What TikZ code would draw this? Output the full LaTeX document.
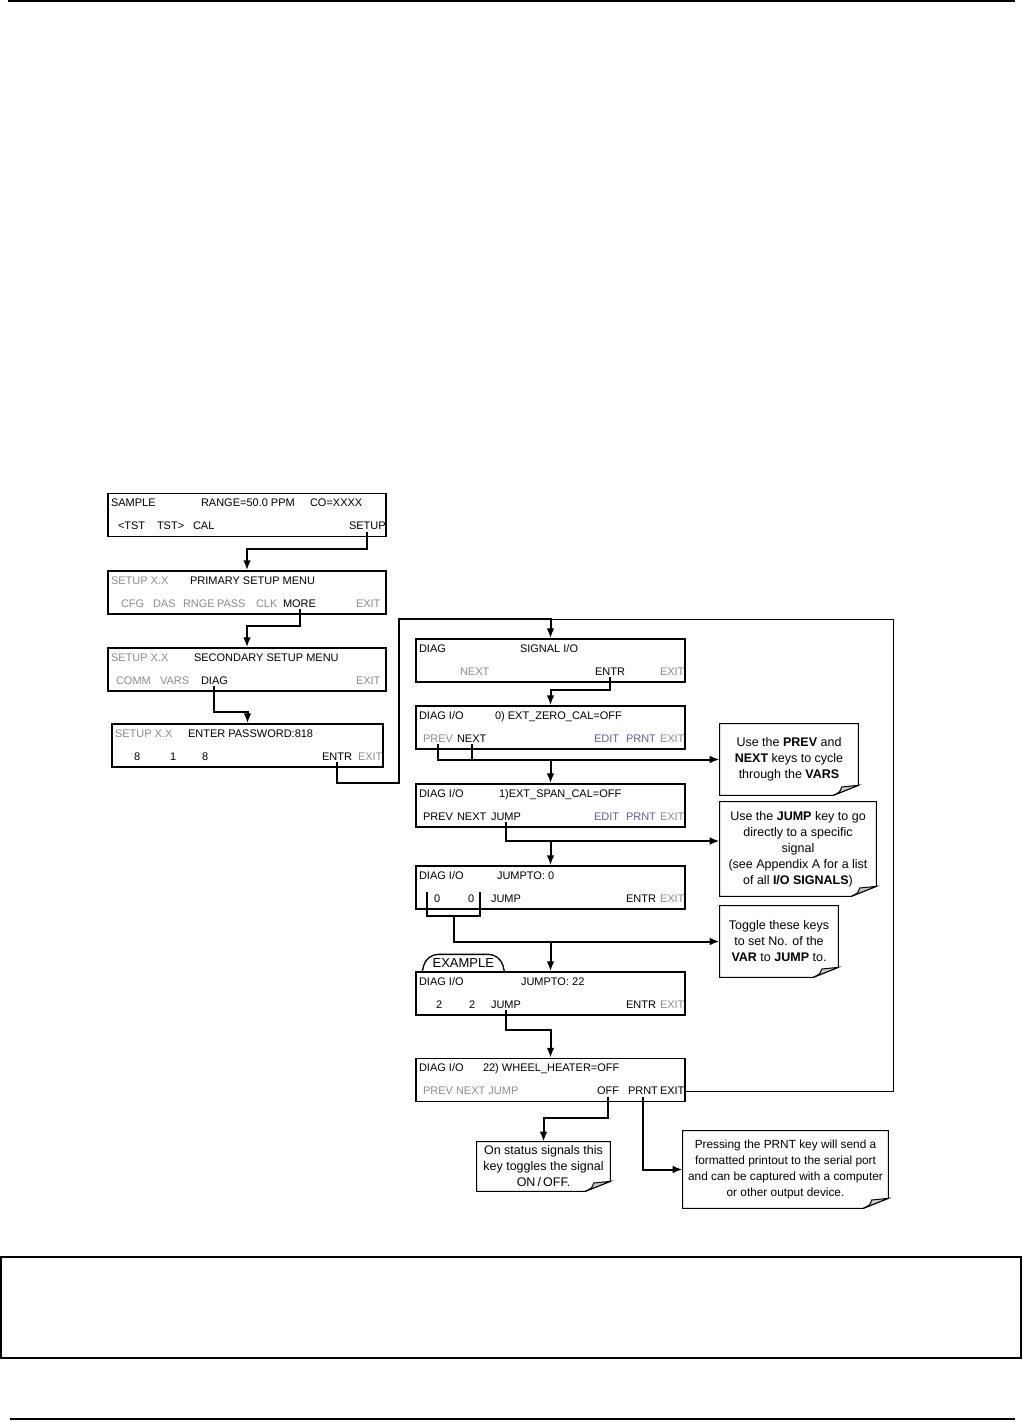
\documentclass[tikz,border=0pt]{standalone}
\usepackage{fontspec}
\setmainfont{Liberation Sans}
\usetikzlibrary{arrows.meta,positioning,calc}

\definecolor{keygray}{HTML}{8C8C8C}
\definecolor{keyblue}{HTML}{5E5EA0}
\definecolor{foldgray}{HTML}{CCCCCC}

% key label inside a display box: [style]{box}{name}{offset}{text}
\newcommand{\kk}[5][key]{\node[#1] (#3) at ([shift={(#4)}]#2.north west) {#5};}

\tikzset{
  menu/.style={draw, line width=0.8pt, minimum width=166.8pt, minimum height=25.8pt, inner sep=0pt},
  rmenu/.style={menu, minimum width=161.4pt},
  key/.style={anchor=base west, inner sep=0.8pt, font=\fontsize{6.6}{8}\selectfont},
  dim/.style={key, text=keygray},
  blu/.style={key, text=keyblue},
  flow/.style={line width=1.2pt},
  loopline/.style={line width=0.6pt},
  note/.style={inner sep=0pt, align=center, font=\fontsize{7.5}{9.6}\selectfont},
}

\begin{document}
\begin{tikzpicture}[x=0.6pt, y=-0.6pt, on grid, >={Latex[length=6pt,width=4.6pt]}]
  \useasboundingbox (0,0) rectangle (1023,1422);

  % page frame
  \draw[line width=0.9pt] (8,1) -- (1015,1);
  \draw[line width=0.8pt] (1,1257) rectangle (1021,1358);
  \draw[line width=0.8pt] (10,1419) -- (1015,1419);

  % left column
  \node[menu] (sample) at (247,515) {};
  \node[menu] (primary) [below=46.5pt of sample] {};
  \node[menu] (secondary) [below=46.2pt of primary] {};
  \node[menu, minimum width=162.6pt] (password) [below=45.6pt of secondary, xshift=0.3pt] {};

  % right column
  \node[rmenu] (signal) at (550.5,660.5) {};
  \node[rmenu] (zero) [below=40.2pt of signal] {};
  \node[rmenu] (span) [below=46.8pt of zero] {};
  \node[rmenu] (jzero) [below=49.2pt of span] {};
  \node[rmenu] (jtwo) [below=63.6pt of jzero] {};
  \node[rmenu] (wheel) [below=51.9pt of jtwo] {};

  \kk{sample}{sampleA}{2,14}{SAMPLE}
  \kk{sample}{rangeA}{92,14}{RANGE=50.0 PPM}
  \kk{sample}{coA}{201,14}{CO=XXXX}
  \kk{sample}{tstL}{9,37}{<TST}
  \kk{sample}{tstR}{48,37}{TST>}
  \kk{sample}{calK}{84,37}{CAL}
  \kk{sample}{setupK}{240,37}{SETUP}

  \kk[dim]{primary}{verA}{2,14}{SETUP X.X}
  \kk{primary}{priT}{81,14}{PRIMARY SETUP MENU}
  \kk[dim]{primary}{cfgK}{12,37}{CFG}
  \kk[dim]{primary}{dasK}{44,37}{DAS}
  \kk[dim]{primary}{rngeK}{74,37}{RNGE}
  \kk[dim]{primary}{passK}{108,37}{PASS}
  \kk[dim]{primary}{clkK}{147,37}{CLK}
  \kk{primary}{moreK}{174,37}{MORE}
  \kk[dim]{primary}{exitA}{247,37}{EXIT}

  \kk[dim]{secondary}{verB}{2,14}{SETUP X.X}
  \kk{secondary}{secT}{85,14}{SECONDARY SETUP MENU}
  \kk[dim]{secondary}{commK}{7,37}{COMM}
  \kk[dim]{secondary}{varsK}{51,37}{VARS}
  \kk{secondary}{diagK}{92,37}{DIAG}
  \kk[dim]{secondary}{exitB}{247,37}{EXIT}

  \kk[dim]{password}{verC}{2,14}{SETUP X.X}
  \kk{password}{pwT}{75,14}{ENTER PASSWORD:818}
  \kk{password}{dA}{21,37}{8}
  \kk{password}{dB}{57,37}{1}
  \kk{password}{dC}{89,37}{8}
  \kk{password}{pwentrK}{209,37}{ENTR}
  \kk[dim]{password}{exitC}{245,37}{EXIT}

  \kk{signal}{diagT}{2,14}{DIAG}
  \kk{signal}{sigT}{103,14}{SIGNAL I/O}
  \kk[dim]{signal}{snextK}{43,37}{NEXT}
  \kk{signal}{sentrK}{178,37}{ENTR}
  \kk[dim]{signal}{exitD}{243,37}{EXIT}

  \kk{zero}{zdiag}{2,14}{DIAG I/O}
  \kk{zero}{zT}{78,14}{0) EXT\_ZERO\_CAL=OFF}
  \kk[dim]{zero}{zprevK}{6,37}{PREV}
  \kk{zero}{znextK}{40,37}{NEXT}
  \kk[blu]{zero}{zeditK}{177,37}{EDIT}
  \kk[blu]{zero}{zprntK}{209,37}{PRNT}
  \kk[dim]{zero}{exitE}{243,37}{EXIT}

  \kk{span}{sdiag}{2,14}{DIAG I/O}
  \kk{span}{sT}{82,14}{1)EXT\_SPAN\_CAL=OFF}
  \kk{span}{sprevK}{6,37}{PREV}
  \kk{span}{snextK2}{40,37}{NEXT}
  \kk{span}{sjumpK}{74,37}{JUMP}
  \kk[blu]{span}{seditK}{177,37}{EDIT}
  \kk[blu]{span}{sprntK}{209,37}{PRNT}
  \kk[dim]{span}{exitF}{243,37}{EXIT}

  \kk{jzero}{jdiag}{2,14}{DIAG I/O}
  \kk{jzero}{jT}{80,14}{JUMPTO: 0}
  \kk{jzero}{jzA}{17,37}{0}
  \kk{jzero}{jzB}{51,37}{0}
  \kk{jzero}{jjumpK}{74,37}{JUMP}
  \kk{jzero}{jentrK}{209,37}{ENTR}
  \kk[dim]{jzero}{exitG}{243,37}{EXIT}

  \kk{jtwo}{kdiag}{2,14}{DIAG I/O}
  \kk{jtwo}{kT}{104,14}{JUMPTO: 22}
  \kk{jtwo}{ktA}{19,37}{2}
  \kk{jtwo}{ktB}{52,37}{2}
  \kk{jtwo}{kjumpK}{74,37}{JUMP}
  \kk{jtwo}{kentrK}{209,37}{ENTR}
  \kk[dim]{jtwo}{exitH}{243,37}{EXIT}

  \kk{wheel}{wdiag}{2,14}{DIAG I/O}
  \kk{wheel}{wT}{66,14}{22) WHEEL\_HEATER=OFF}
  \kk[dim]{wheel}{wkeys}{6,37}{PREV NEXT JUMP}
  \kk{wheel}{woffK}{180,37}{OFF}
  \kk{wheel}{wprntK}{211,37}{PRNT}
  \kk{wheel}{wexitK}{243,37}{EXIT}

  % example tab
  \draw[line width=0.8pt, rounded corners=7pt] ([xshift=4.2pt]jtwo.north west) -- ++(4,-17) -- ++(74,0) -- ++(4,17);
  \node[font=\fontsize{7.8}{9}\selectfont, inner sep=0pt] (exTab) at ([shift={(48,-8)}]jtwo.north west) {EXAMPLE};

  % notes
  \node[note, minimum width=82.8pt, minimum height=42.6pt] (noteA) at (789,759.5)
    {Use the \textbf{PREV} and\\ \textbf{NEXT} keys to cycle\\ through the \textbf{VARS}};
  \node[note, minimum width=93.6pt, minimum height=56.4pt] (noteB) at (798,849)
    {Use the \textbf{JUMP} key to go\\ directly to a specific\\ signal\\ (see Appendix A for a list\\ of all \textbf{I/O SIGNALS})};
  \node[note, minimum width=70.8pt, minimum height=42.6pt] (noteC) at (779,941.5)
    {Toggle these keys\\ to set No. of the\\ \textbf{VAR} to \textbf{JUMP} to.};
  \node[note, minimum width=79.8pt, minimum height=29.4pt] (noteD) at (543.5,1166.5)
    {On status signals this\\ key toggles the signal\\ ON\,/\,OFF.};
  \node[note, font=\fontsize{7.1}{9.6}\selectfont, minimum width=123pt, minimum height=46.2pt] (noteE) at (785.5,1169.5)
    {Pressing the PRNT key will send a\\ formatted printout to the serial port\\ and can be captured with a computer\\ or other output device.};

  \foreach \n in {noteA,noteB,noteC,noteD,noteE}{
    \draw[line width=0.6pt] (\n.north west) -- (\n.north east) -- ([yshift=6pt]\n.south east)
      -- ([xshift=-15pt]\n.south east) -- (\n.south west) -- cycle;
    \filldraw[line width=0.6pt, fill=foldgray] ([xshift=-15pt]\n.south east)
      .. controls ([xshift=-11pt,yshift=2pt]\n.south east) .. ([xshift=-10pt,yshift=5pt]\n.south east)
      -- ([yshift=6pt]\n.south east) -- cycle;
  }

  % connectors, left column
  \draw[flow,->] (setupK.south) |- ($(primary.north)+(0,-21)$) -- (primary.north);
  \draw[flow,->] (moreK.south) |- ($(secondary.north)+(0,-21)$) -- (secondary.north);
  \draw[flow,->] (diagK.south) |- ($(password.north)+(0,-11)$) -- (password.north);

  % loop round to the diagnostics menu
  \coordinate (loopSW) at (399,783);
  \coordinate (loopNW) at (399,619);
  \coordinate (loopNE) at (893,619);
  \draw[flow,->] (pwentrK.south) |- (loopSW) -- (loopNW) -| (signal.north);
  \draw[loopline] (wexitK.east) -| (loopNE) -- (loopNE -| signal.north);

  % connectors, right column
  \draw[flow,->] (sentrK.south) |- ($(zero.north)+(0,-15)$) -- (zero.north);
  \draw[flow,->] (zprevK.south) |- (noteA.west);
  \draw[flow] (znextK.south) -- (znextK.south |- noteA.west);
  \draw[flow,->] (span.north |- noteA.west) -- (span.north);

  \coordinate (jumpline) at ([yshift=4.8pt]noteB.west);
  \draw[flow,->] (sjumpK.south) |- (jumpline);
  \draw[flow,->] (jzero.north |- jumpline) -- (jzero.north);

  \coordinate (brL) at ([shift={(12,27)}]jzero.north west);
  \coordinate (brR) at ([shift={(65,27)}]jzero.north west);
  \coordinate (brB) at ([shift={(39,51)}]jzero.north west);
  \draw[flow] (brL) |- (brB) -| (brR);
  \draw[flow,->] (brB) |- (noteC.west);
  \draw[flow,->] (jtwo.north |- noteC.west) -- (jtwo.north);

  \draw[flow,->] (kjumpK.south) |- ($(wheel.north)+(0,-28)$) -- (wheel.north);
  \draw[flow,->] (woffK.south) |- ($(noteD.north)+(0,-24)$) -- (noteD.north);
  \draw[flow,->] (wprntK.south) |- (noteE.west);
\end{tikzpicture}
\end{document}
